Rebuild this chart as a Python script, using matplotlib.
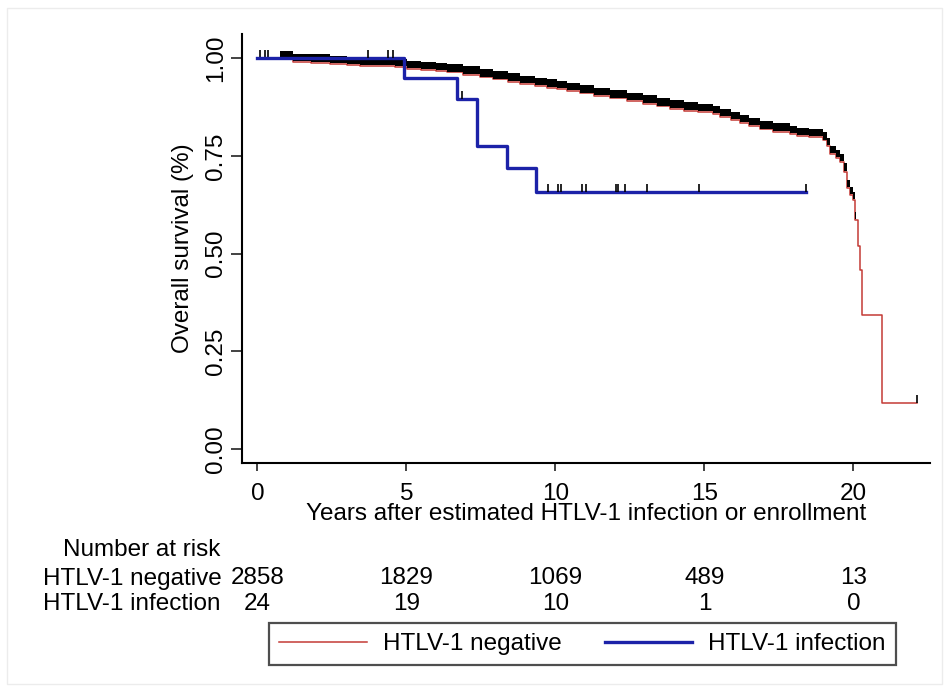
import numpy as np
import matplotlib
matplotlib.use("Agg")
import matplotlib.pyplot as plt
import matplotlib.transforms as mtransforms
from matplotlib.lines import Line2D
from matplotlib.patches import Rectangle

plt.rcParams['font.family'] = ['Liberation Sans', 'DejaVu Sans']
FS = 17.5

# HTLV-1 negative: KM step knots (time in years, survival after the step)
neg_time = [0.0, 0.75, 1.19, 1.8, 2.43, 3.0, 3.44, 4.11, 4.6, 5.02, 5.5, 6.0, 6.36,
            6.9, 7.47, 7.9, 8.4, 8.81, 9.3, 9.7, 10.05, 10.4, 10.82, 11.3, 11.83,
            12.4, 12.94, 13.4, 13.84, 14.3, 14.8, 15.28, 15.52, 15.9, 16.2, 16.5,
            16.86, 17.3, 17.87, 18.1, 18.5, 18.98, 19.1, 19.21, 19.4, 19.55, 19.7,
            19.78, 19.9, 19.98, 20.05, 20.15, 20.22, 20.29, 20.96, 22.13]
neg_surv = [1.0, 0.997, 0.991, 0.989, 0.985, 0.983, 0.981, 0.980, 0.978, 0.973, 0.970,
            0.967, 0.964, 0.958, 0.951, 0.946, 0.940, 0.934, 0.929, 0.925, 0.921,
            0.916, 0.910, 0.904, 0.897, 0.891, 0.884, 0.877, 0.871, 0.866, 0.862,
            0.857, 0.849, 0.842, 0.834, 0.827, 0.818, 0.812, 0.806, 0.801, 0.799,
            0.790, 0.775, 0.755, 0.745, 0.735, 0.710, 0.668, 0.650, 0.637, 0.586,
            0.520, 0.458, 0.343, 0.118, 0.118]
neg_censor = [0.1, 0.25, 0.36, 22.13]   # single visible ticks
neg_dense = (0.75, 20.1)                # span where censor ticks merge into a band

# HTLV-1 infection
inf_time = [0.0, 4.92, 6.70, 7.37, 8.38, 9.36, 18.41]
inf_surv = [1.0, 0.950, 0.895, 0.776, 0.718, 0.657, 0.657]
inf_censor = [3.71, 4.39, 4.56, 6.85, 9.76, 10.1, 10.2, 10.89, 11.02, 12.03,
              12.1, 12.33, 13.07, 14.82, 18.41]

# number at risk table
risk_times = [0, 5, 10, 15, 20]
risk_neg = [2858, 1829, 1069, 489, 13]
risk_inf = [24, 19, 10, 1, 0]

RED = '#c43a36'
BLUE = '#1c22a8'
TICK_H = 0.021


def km_at(times, surv, t):
    idx = np.searchsorted(times, t, side='right') - 1
    return np.asarray(surv)[idx]


W, H = 949, 691
fig = plt.figure(figsize=(W / 100, H / 100), dpi=100)
ax = fig.add_axes([242.3 / W, 1 - 463.3 / H, (930 - 242.3) / W, (463.3 - 34) / H])

# red curve
ax.step(neg_time, neg_surv, where='post', color=RED, lw=1.1, zorder=2)
# dense censoring ticks -> black band above the curve
t_arr = np.array(neg_time)
band_t = np.concatenate([[neg_dense[0]], t_arr[(t_arr > neg_dense[0]) & (t_arr < neg_dense[1])], [neg_dense[1]]])
band_s = km_at(neg_time, neg_surv, band_t)
ax.fill_between(band_t, band_s + 0.002, band_s + TICK_H, step='post', color='black', lw=0, zorder=3)
cs = km_at(neg_time, neg_surv, neg_censor)
ax.vlines(neg_censor, cs, cs + TICK_H, color='black', lw=1.2, zorder=3)

# blue curve
ax.step(inf_time, inf_surv, where='post', color=BLUE, lw=2.4, zorder=4)
ci = km_at(inf_time, inf_surv, inf_censor)
ax.vlines(inf_censor, ci, ci + TICK_H, color='black', lw=1.2, zorder=5)

ax.set_xlim(-0.51, 22.57)
ax.set_ylim(-0.0366, 1.062)
for s in ['top', 'right']:
    ax.spines[s].set_visible(False)
for s in ['left', 'bottom']:
    ax.spines[s].set_linewidth(1.5)

ax.set_xticks(risk_times)
ax.set_xticklabels([str(t) for t in risk_times], fontsize=FS)
ax.set_yticks([0, 0.25, 0.5, 0.75, 1.0])
ax.set_yticklabels(['0.00', '0.25', '0.50', '0.75', '1.00'], fontsize=FS, rotation=90, va='center')
ax.tick_params(axis='x', length=6, width=1.2, pad=8, color='#222222')
ax.tick_params(axis='y', length=7.6, width=1.2, pad=3.4, color='#222222')

ax.set_ylabel('Overall survival (%)', fontsize=FS, labelpad=8)
ax.set_xlabel('Years after estimated HTLV-1 infection or enrollment', fontsize=FS)
ax.xaxis.label.set_va('baseline')
ax.xaxis.set_label_coords(0.5, (463.3 - 520) / (463.3 - 34))

# number at risk table
tr = mtransforms.blended_transform_factory(ax.transData, fig.transFigure)
fig.text(62.7 / W, 1 - 556 / H, 'Number at risk', fontsize=FS, va='baseline')
fig.text(43.3 / W, 1 - 584.5 / H, 'HTLV-1 negative', fontsize=FS, va='baseline')
fig.text(43.3 / W, 1 - 610 / H, 'HTLV-1 infection', fontsize=FS, va='baseline')
for t, n1, n2 in zip(risk_times, risk_neg, risk_inf):
    ax.text(t, 1 - 584.5 / H, str(n1), transform=tr, fontsize=FS, ha='center', va='baseline')
    ax.text(t, 1 - 610 / H, str(n2), transform=tr, fontsize=FS, ha='center', va='baseline')

handles = [Line2D([], [], color=RED, lw=1.1), Line2D([], [], color=BLUE, lw=2.4)]
leg = fig.legend(handles, ['HTLV-1 negative', 'HTLV-1 infection'], ncol=2,
                 loc='upper left', bbox_to_anchor=(269 / W, 1 - 623 / H),
                 borderaxespad=0, fontsize=FS, frameon=True, fancybox=False,
                 handlelength=3.6, handletextpad=0.66, columnspacing=1.77,
                 borderpad=0.42)
leg.get_frame().set_edgecolor('#222222')
leg.get_frame().set_linewidth(1.6)

# faint outer frame of the picture
fig.patches.append(Rectangle((7 / W, 1 - 684 / H), (942 - 7) / W, (684 - 8) / H,
                             transform=fig.transFigure, fill=False,
                             edgecolor='#ececec', lw=1))

fig.savefig('out.png', dpi=100)
